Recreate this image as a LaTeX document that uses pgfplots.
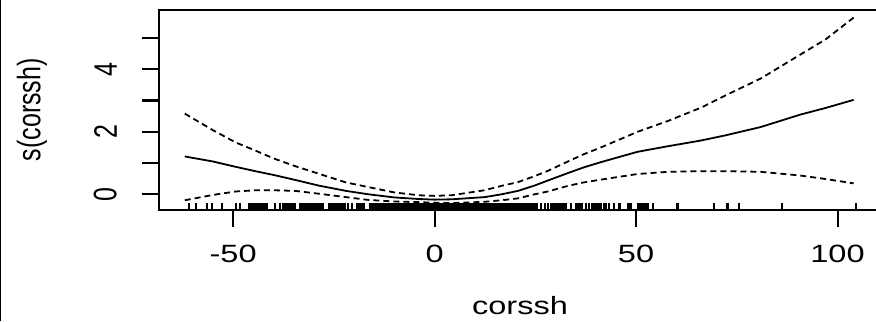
\documentclass[border=0pt]{standalone}
\usepackage{pgfplots}
\pgfplotsset{compat=1.18}
\usepackage{pgfplotstable}
\usepackage{fontspec}
\setmainfont{Liberation Sans}
\usepackage{graphicx}
\pgfdeclareplotmark{rug}{\pgfpathmoveto{\pgfpoint{0pt}{0pt}}\pgfpathlineto{\pgfpoint{0pt}{7bp}}\pgfusepathqstroke}

\pgfplotstableread{
x fit upper lower
-62 1.21 2.58 -0.19
-55 1.05 2.05 -0.02
-49.4 0.88 1.66 0.09
-44.5 0.74 1.40 0.13
-40 0.62 1.15 0.13
-34.6 0.46 0.90 0.11
-28.8 0.28 0.66 0.02
-22 0.11 0.38 -0.09
-16.4 0.00 0.23 -0.18
-10 -0.10 0.06 -0.23
-4 -0.15 -0.03 -0.25
0 -0.17 -0.05 -0.27
4.2 -0.16 -0.03 -0.28
12.4 -0.09 0.13 -0.24
16.6 0.00 0.27 -0.19
20.7 0.11 0.39 -0.13
24.8 0.28 0.58 0.00
28.1 0.44 0.75 0.09
33.1 0.68 1.05 0.27
37 0.86 1.28 0.38
41.3 1.03 1.50 0.47
50.4 1.36 2.00 0.65
58 1.54 2.35 0.72
66.1 1.72 2.77 0.74
72 1.88 3.15 0.74
80.9 2.15 3.70 0.72
90.8 2.55 4.47 0.60
97 2.76 4.95 0.49
104 3.02 5.65 0.35
}\curves

\pgfplotstableread[row sep=\\]{
x y\\
-61 -0.502\\ -59.3 -0.502\\ -56.4 -0.502\\ -55.2 -0.502\\ -52.7 -0.502\\ -49.4 -0.502\\ -48.4 -0.502\\
-46.1 -0.502\\ -45.7 -0.502\\ -45.3 -0.502\\ -44.9 -0.502\\ -44.5 -0.502\\ -44.1 -0.502\\ -43.7 -0.502\\ -43.3 -0.502\\ -42.9 -0.502\\ -42.5 -0.502\\ -42.1 -0.502\\ -41.7 -0.502\\
-39.5 -0.502\\ -38.3 -0.502\\
-37.5 -0.502\\ -37.1 -0.502\\ -36.7 -0.502\\ -36.3 -0.502\\ -35.9 -0.502\\ -35.5 -0.502\\ -35.1 -0.502\\ -34.7 -0.502\\
-33.5 -0.502\\ -33.05 -0.502\\ -32.6 -0.502\\ -32.15 -0.502\\ -31.7 -0.502\\ -31.25 -0.502\\ -30.8 -0.502\\ -30.35 -0.502\\ -29.9 -0.502\\ -29.45 -0.502\\ -29.0 -0.502\\ -28.55 -0.502\\ -28.1 -0.502\\ -27.65 -0.502\\
-26.3 -0.502\\ -25.85 -0.502\\ -25.4 -0.502\\ -24.95 -0.502\\ -24.5 -0.502\\ -24.05 -0.502\\ -23.6 -0.502\\ -23.15 -0.502\\ -22.7 -0.502\\ -22.25 -0.502\\
-21.6 -0.502\\ -20.5 -0.502\\
-19.3 -0.502\\ -18.85 -0.502\\ -18.4 -0.502\\ -17.95 -0.502\\ -17.5 -0.502\\
-16 -0.502\\ -15.5 -0.502\\ -15 -0.502\\ -14.5 -0.502\\ -14 -0.502\\ -13.5 -0.502\\ -13 -0.502\\ -12.5 -0.502\\ -12 -0.502\\ -11.5 -0.502\\
-11 -0.502\\ -10.5 -0.502\\ -10 -0.502\\ -9.5 -0.502\\ -9 -0.502\\ -8.5 -0.502\\ -8 -0.502\\ -7.5 -0.502\\ -7 -0.502\\ -6.5 -0.502\\
-6 -0.502\\ -5.5 -0.502\\ -5 -0.502\\ -4.5 -0.502\\ -4 -0.502\\ -3.5 -0.502\\ -3 -0.502\\ -2.5 -0.502\\ -2 -0.502\\ -1.5 -0.502\\
-1 -0.502\\ -0.5 -0.502\\ 0 -0.502\\ 0.5 -0.502\\ 1 -0.502\\ 1.5 -0.502\\ 2 -0.502\\ 2.5 -0.502\\ 3 -0.502\\ 3.5 -0.502\\
4 -0.502\\ 4.5 -0.502\\ 5 -0.502\\ 5.5 -0.502\\ 6 -0.502\\ 6.5 -0.502\\ 7 -0.502\\ 7.5 -0.502\\ 8 -0.502\\ 8.5 -0.502\\
9 -0.502\\ 9.5 -0.502\\ 10 -0.502\\ 10.5 -0.502\\ 11 -0.502\\ 11.5 -0.502\\ 12 -0.502\\ 12.5 -0.502\\ 13 -0.502\\ 13.5 -0.502\\
14 -0.502\\ 14.5 -0.502\\ 15 -0.502\\ 15.5 -0.502\\ 16 -0.502\\ 16.5 -0.502\\ 17 -0.502\\ 17.5 -0.502\\ 18 -0.502\\ 18.5 -0.502\\
19 -0.502\\ 19.5 -0.502\\ 20 -0.502\\ 20.5 -0.502\\ 21 -0.502\\ 21.5 -0.502\\ 22 -0.502\\ 22.5 -0.502\\ 23 -0.502\\ 23.5 -0.502\\
24 -0.502\\ 24.5 -0.502\\ 25 -0.502\\ 25.5 -0.502\\
26.5 -0.502\\ 27.3 -0.502\\ 28.1 -0.502\\
29 -0.502\\ 29.5 -0.502\\ 30 -0.502\\ 30.5 -0.502\\ 31 -0.502\\ 31.5 -0.502\\ 32 -0.502\\ 32.5 -0.502\\
33.9 -0.502\\
35.1 -0.502\\ 35.6 -0.502\\ 36.1 -0.502\\ 36.6 -0.502\\ 37.5 -0.502\\ 38.3 -0.502\\ 39.2 -0.502\\ 39.7 -0.502\\ 40.2 -0.502\\ 40.7 -0.502\\ 41.2 -0.502\\
42.1 -0.502\\ 42.6 -0.502\\ 43.2 -0.502\\ 44.6 -0.502\\ 45.9 -0.502\\ 47.9 -0.502\\ 48.4 -0.502\\ 48.8 -0.502\\
50.4 -0.502\\ 50.9 -0.502\\ 51.4 -0.502\\ 51.9 -0.502\\ 52.4 -0.502\\ 52.9 -0.502\\
54.1 -0.502\\ 60.3 -0.502\\ 69.4 -0.502\\ 72.7 -0.502\\ 75.6 -0.502\\ 86.3 -0.502\\ 104.5 -0.502\\
}\rugdata

\begin{document}
\begin{tikzpicture}[x=1bp,y=1bp]
\useasboundingbox (0,0) rectangle (876,-321);
\draw[line width=1.5bp] (0.75,0) -- (0.75,-321);
\begin{axis}[
  at={(159bp,-210bp)}, anchor=south west,
  scale only axis, width=722bp, height=200.5bp,
  xmin=-68.4, xmax=110.8, ymin=-0.502, ymax=5.91,
  clip=false,
  axis line style={line width=2bp},
  tick style={line width=2bp, black},
  tick align=outside,
  major tick length=17bp,
  xtick={-50,0,50,100},
  xticklabels={\scalebox{1.3}[1]{-50},\scalebox{1.3}[1]{0},\scalebox{1.3}[1]{50},\scalebox{1.3}[1]{100}},
  ytick={0,1,2,3,4,5},
  yticklabels={\scalebox{1}[1.3]{0},{},\scalebox{1}[1.3]{2},{},\scalebox{1}[1.3]{4},{}},
  xtick pos=bottom, ytick pos=left,
  xticklabel shift=35bp,
  yticklabel shift=25bp,
  xticklabel style={font=\fontsize{25bp}{30bp}\selectfont, anchor=base, inner sep=0pt},
  yticklabel style={font=\fontsize{25bp}{30bp}\selectfont, rotate=90, anchor=south, inner sep=0pt},
  xlabel={\scalebox{1.3}[1]{corssh}},
  ylabel={\scalebox{1}[1.3]{s(corssh)}},
  xlabel style={font=\fontsize{25bp}{30bp}\selectfont, at={(axis description cs:0.5,-0.519)}, anchor=base, inner sep=0pt},
  ylabel style={font=\fontsize{25bp}{30bp}\selectfont, at={(axis description cs:-0.1759,0.5)}, anchor=center, inner sep=0pt},
]
\addplot[black, line width=1.8bp] table[x=x, y=fit] {\curves};
\addplot[black, line width=1.8bp, dash pattern=on 6bp off 4bp] table[x=x, y=upper] {\curves};
\addplot[black, line width=1.8bp, dash pattern=on 6bp off 4bp] table[x=x, y=lower] {\curves};
\addplot[only marks, mark=rug, mark options={line width=2.1bp, solid}] table[x=x, y=y] {\rugdata};
\end{axis}
\end{tikzpicture}
\end{document}
